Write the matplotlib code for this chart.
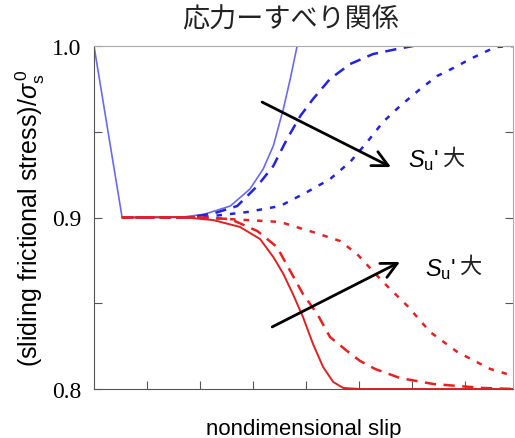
import matplotlib
matplotlib.use('Agg')
import matplotlib.pyplot as plt

plt.rcParams['font.family'] = ['Liberation Sans', 'Noto Sans CJK JP', 'DejaVu Sans']
plt.rcParams['mathtext.fontset'] = 'custom'
plt.rcParams['mathtext.rm'] = 'Liberation Sans'
plt.rcParams['mathtext.it'] = 'Liberation Sans:italic'

# curves
blue_solid_x = [0, 0.53, 1.62, 2.09, 2.57, 2.94, 3.19, 3.38, 3.57, 3.70, 3.83]
blue_solid_y = [1.0, 0.900, 0.900, 0.9020, 0.9067, 0.9166, 0.9283, 0.9417, 0.9633, 0.9808, 1.0]

blue_dash_x = [0.53, 1.81, 2.28, 2.70, 3.08, 3.38, 3.64, 3.89, 4.13, 4.45, 4.83, 5.26, 5.72, 6.02]
blue_dash_y = [0.900, 0.900, 0.9026, 0.9067, 0.9184, 0.9300, 0.9458, 0.9592, 0.9691, 0.9808,
               0.9895, 0.9953, 0.9983, 1.0]

blue_dot_x = [0.53, 2.0, 2.89, 3.51, 4.02, 4.45, 4.83, 5.15, 5.45, 5.77, 6.15, 6.47, 6.85, 7.09,
              7.57, 7.91]
blue_dot_y = [0.900, 0.900, 0.9032, 0.9067, 0.9149, 0.9224, 0.9324, 0.9440, 0.9557, 0.9650,
              0.9749, 0.9825, 0.9883, 0.9924, 0.9994, 1.0]

red_solid_x = [0.53, 1.62, 2.25, 2.75, 3.13, 3.38, 3.57, 3.75, 3.94, 4.13, 4.32, 4.51, 4.70, 5.02, 7.91]
red_solid_y = [0.900, 0.9003, 0.8985, 0.8945, 0.8875, 0.8770, 0.8671, 0.8554, 0.8420, 0.8262,
               0.8128, 0.8041, 0.8006, 0.800, 0.800]

red_dash_x = [0.53, 2.0, 2.57, 3.08, 3.45, 3.70, 3.94, 4.21, 4.45, 4.77, 5.02, 5.30, 5.77, 6.40,
              7.34, 7.91]
red_dash_y = [0.900, 0.900, 0.8991, 0.8921, 0.8828, 0.8688, 0.8554, 0.8437, 0.8303, 0.8222,
              0.8163, 0.8117, 0.8064, 0.8029, 0.8006, 0.800]

red_dot_x = [0.53, 2.0, 2.89, 3.51, 4.13, 4.64, 4.96, 5.45, 5.91, 6.34, 6.85, 7.47, 7.91]
red_dot_y = [0.900, 0.900, 0.8985, 0.8974, 0.8915, 0.8863, 0.8787, 0.8624, 0.8484, 0.8332,
             0.8216, 0.8117, 0.8076]

# arrows (start, tip) and labels
arrow_up = [(3.17, 0.9673), (5.60, 0.9294)]
arrow_low = [(3.36, 0.8362), (5.77, 0.8741)]
label_up = (5.92, 0.9335)
label_low = (6.25, 0.8705)

yticks = [0.8, 0.85, 0.9, 0.95, 1.0]
ytick_labels = ['0.8', '', '0.9', '', '1.0']
xticks = [1, 2, 3, 4, 5, 6, 7]

fig = plt.figure(figsize=(5.15, 4.39), dpi=100)
ax = fig.add_axes([94 / 515, 1 - 390 / 439, 419 / 515, 343 / 439])

ax.plot(blue_solid_x, blue_solid_y, color='#6a6af0', lw=1.2)
ax.plot(blue_dash_x, blue_dash_y, color='#2222e6', lw=1.8, dashes=(4.5, 3))
ax.plot(blue_dot_x, blue_dot_y, color='#2222e6', lw=1.8, dashes=(2.2, 3.2))
ax.plot(red_solid_x, red_solid_y, color='#dc2222', lw=1.4)
ax.plot(red_dash_x, red_dash_y, color='#e82020', lw=1.8, dashes=(4.5, 3))
ax.plot(red_dot_x, red_dot_y, color='#e82020', lw=1.8, dashes=(2.2, 3.2))

for a in (arrow_up, arrow_low):
    ax.annotate('', xy=a[1], xytext=a[0],
                arrowprops=dict(arrowstyle='->', lw=2, color='black', mutation_scale=28,
                                shrinkA=0, shrinkB=0))

for pos in (label_up, label_low):
    t = ax.text(pos[0], pos[1], "$\\mathit{S}_{\\rm u}$'", fontsize=17, va='center', ha='left')
    ax.annotate('大', xy=(1.0, 0.62), xycoords=t, xytext=(2, 0), textcoords='offset points',
                fontsize=16, va='center', ha='left', family=['Noto Sans CJK JP'], color='#222222')

ax.set_xlim(0, 7.9)
ax.set_ylim(0.8, 1.0)
ax.set_xticks(xticks)
ax.set_xticklabels([])
ax.set_yticks(yticks)
ax.set_yticklabels(ytick_labels, family='Liberation Serif', fontsize=17)
ax.tick_params(axis='both', direction='in', length=6, color='#555555', pad=9)
ax.tick_params(axis='y', right=True)

for s in ['left', 'bottom']:
    ax.spines[s].set_color('#555555')
for s in ['top', 'right']:
    ax.spines[s].set_color('#aaaaaa')

ax.set_ylabel('(sliding frictional stress)/$\\sigma_{\\rm s}^{\\,0}$', fontsize=18, labelpad=4)
ax.set_xlabel('nondimensional slip', fontsize=16, labelpad=12)

fig.text(291 / 515, 1 - 20 / 439, '応力ーすべり関係', fontsize=19.5, ha='center', va='center',
         family=['Noto Sans CJK JP', 'DejaVu Sans'], color='#222222')

fig.savefig('out.png', dpi=100)
